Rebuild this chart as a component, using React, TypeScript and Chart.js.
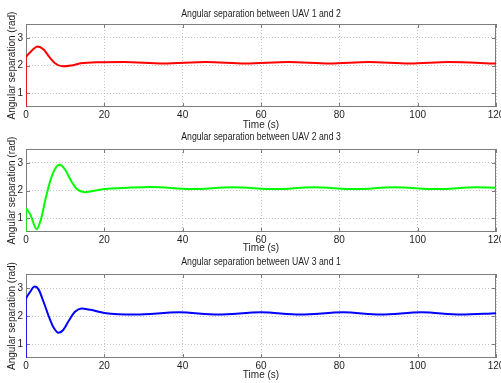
import React, { useEffect, useRef } from "react";
import { Chart, registerables } from "chart.js";
Chart.register(...registerables);

// ---- data ----
const TITLES = [
  "Angular separation between UAV 1 and 2",
  "Angular separation between UAV 2 and 3",
  "Angular separation between UAV 3 and 1",
];
const X_LABEL = "Time (s)";
const Y_LABEL = "Angular separation (rad)";
const X_TICKS = [0, 20, 40, 60, 80, 100, 120];
const Y_TICKS = [1, 2, 3];
const X_MIN = 0;
const X_MAX = 120;
const Y_MIN = 0.5;
const Y_MAX = 3.5;

const T12 = [0, 1, 3, 4.5, 6, 7.5, 9.3, 11.5, 14, 18, 25, 35, 46, 56, 67, 77.5, 87.5, 98, 108, 120];
const V12 = [2.31, 2.47, 2.69, 2.58, 2.3, 2.07, 1.97, 2.0, 2.08, 2.12, 2.13, 2.07, 2.13, 2.07, 2.13, 2.07, 2.13, 2.07, 2.13, 2.07];
const START12 = 0.3;

const T23 = [0, 1.2, 2.7, 3.8, 5, 6.2, 7.3, 8.6, 10, 11.5, 13, 15, 17, 20, 26, 32, 42, 53, 63.5, 73.5, 84, 94, 105, 115, 120];
const V23 = [1.37, 1.1, 0.6, 0.95, 1.7, 2.35, 2.75, 2.93, 2.75, 2.35, 2.05, 1.94, 1.98, 2.05, 2.1, 2.13, 2.05, 2.12, 2.05, 2.12, 2.05, 2.12, 2.05, 2.12, 2.1];
const START23 = 0.3;

const T31 = [0, 1, 2.2, 3.2, 4.5, 6, 7, 8.3, 9.5, 11, 12.5, 14.2, 16.5, 20, 28, 39, 49, 60, 70, 81, 90.5, 101, 111, 120];
const V31 = [2.63, 2.85, 3.05, 2.95, 2.5, 1.92, 1.6, 1.4, 1.5, 1.85, 2.15, 2.27, 2.22, 2.11, 2.05, 2.13, 2.05, 2.13, 2.05, 2.13, 2.05, 2.13, 2.05, 2.1];
const START31 = 0.3;

const COLORS = ["#ff0000", "#00ff00", "#0000ff"];

// ---- layout ----
const PANELS = [
  { top: 0, height: 132, padTop: 24, titleY: 14, xH: 25, t: T12, v: V12, s: START12 },
  { top: 123, height: 132, padTop: 26, titleY: 14, xH: 23, t: T23, v: V23, s: START23 },
  { top: 248, height: 134, padTop: 26, titleY: 14.3, xH: 24, t: T31, v: V31, s: START31 },
];

const REG = "'Liberation Sans', Arial, sans-serif";
const TEXT = "#1e1e1e";
const AXIS = "#7d7d7d";
const GRID = "#c4c4c4";
const SQUEEZE = 0.87;

const boxPlugin = {
  id: "box",
  beforeDatasetsDraw(chart: any) {
    const { ctx, chartArea } = chart;
    const { left, top, right, bottom } = chartArea;
    ctx.save();
    ctx.strokeStyle = AXIS;
    ctx.lineWidth = 1;
    ctx.strokeRect(left + 0.5, top + 0.5, right - left - 1, bottom - top - 1);
    const xs = chart.scales.x;
    const ys = chart.scales.y;
    ctx.beginPath();
    X_TICKS.forEach((v) => {
      const px = Math.round(xs.getPixelForValue(v)) + 0.5;
      ctx.moveTo(px, bottom);
      ctx.lineTo(px, bottom - 4);
      ctx.moveTo(px, top);
      ctx.lineTo(px, top + 4);
    });
    Y_TICKS.forEach((v) => {
      const py = Math.round(ys.getPixelForValue(v)) + 0.5;
      ctx.moveTo(left, py);
      ctx.lineTo(left + 4, py);
      ctx.moveTo(right, py);
      ctx.lineTo(right - 4, py);
    });
    ctx.stroke();
    ctx.restore();
  },
  afterDraw(chart: any, _args: any, opts: any) {
    const { ctx, chartArea } = chart;
    const cx = (chartArea.left + chartArea.right) / 2;
    ctx.save();
    ctx.fillStyle = TEXT;
    ctx.font = "10px " + REG;
    ctx.textAlign = "center";
    ctx.textBaseline = "middle";
    ctx.translate(cx, opts.titleY);
    ctx.scale(SQUEEZE, 1);
    ctx.fillText(opts.text, 0, 0);
    ctx.restore();
  },
};

function Panel({ idx }: { idx: number }) {
  const ref = useRef<HTMLCanvasElement | null>(null);
  const p = PANELS[idx];
  useEffect(() => {
    if (!ref.current) return;
    const pts = p.t.map((x, i) => ({ x, y: p.v[i] }));
    const chart = new Chart(ref.current, {
      type: "line",
      data: {
        datasets: [
          {
            data: pts,
            borderColor: COLORS[idx],
            borderWidth: 2,
            pointRadius: 0,
            cubicInterpolationMode: "monotone",
            fill: false,
          },
          {
            data: [
              { x: 0, y: p.s },
              { x: 0, y: p.v[0] },
            ],
            borderColor: COLORS[idx],
            borderWidth: 1.5,
            pointRadius: 0,
            tension: 0,
            fill: false,
          },
        ],
      },
      options: {
        responsive: false,
        animation: false,
        devicePixelRatio: 1,
        layout: { padding: { left: 0, right: 5, top: p.padTop, bottom: 0 } },
        plugins: {
          legend: { display: false },
          tooltip: { enabled: false },
          title: { display: false },
          box: { text: TITLES[idx], titleY: p.titleY },
        },
        scales: {
          x: {
            type: "linear",
            min: X_MIN,
            max: X_MAX,
            afterBuildTicks: (s: any) => {
              s.ticks = X_TICKS.map((value) => ({ value }));
            },
            ticks: {
              color: TEXT,
              font: { family: REG, size: 10 },
              padding: 2,
              maxRotation: 0,
              autoSkip: false,
            },
            grid: { color: GRID, drawTicks: false, lineWidth: 1 },
            border: { display: false, dash: [1, 2] },
            title: {
              display: true,
              text: X_LABEL,
              color: TEXT,
              font: { family: REG, size: 10 },
              padding: { top: 0, bottom: 1 },
            },
            afterFit: (s: any) => {
              s.height = p.xH;
              s.paddingLeft = 0;
              s.paddingRight = 0;
            },
          },
          y: {
            type: "linear",
            min: Y_MIN,
            max: Y_MAX,
            afterBuildTicks: (s: any) => {
              s.ticks = Y_TICKS.map((value) => ({ value }));
            },
            ticks: {
              color: TEXT,
              font: { family: REG, size: 10 },
              padding: 3,
            },
            grid: { color: GRID, drawTicks: false, lineWidth: 1 },
            border: { display: false, dash: [1, 2] },
            title: {
              display: true,
              text: Y_LABEL,
              color: TEXT,
              font: { family: REG, size: 10 },
              padding: { top: 6, bottom: 0 },
            },
            afterFit: (s: any) => {
              s.width = 26;
              s.paddingTop = 0;
              s.paddingBottom = 0;
            },
          },
        },
      } as any,
      plugins: [boxPlugin],
    });
    return () => chart.destroy();
  }, []);
  return (
    <canvas
      ref={ref}
      width={501}
      height={p.height}
      style={{ position: "absolute", left: 0, top: p.top, width: 501, height: p.height }}
    />
  );
}

export default function App() {
  return (
    <div
      style={{
        position: "fixed",
        left: 0,
        top: 0,
        width: 501,
        height: 383,
        background: "#ffffff",
        overflow: "hidden",
      }}
    >
      {PANELS.map((_, i) => (
        <Panel key={i} idx={i} />
      ))}
    </div>
  );
}
